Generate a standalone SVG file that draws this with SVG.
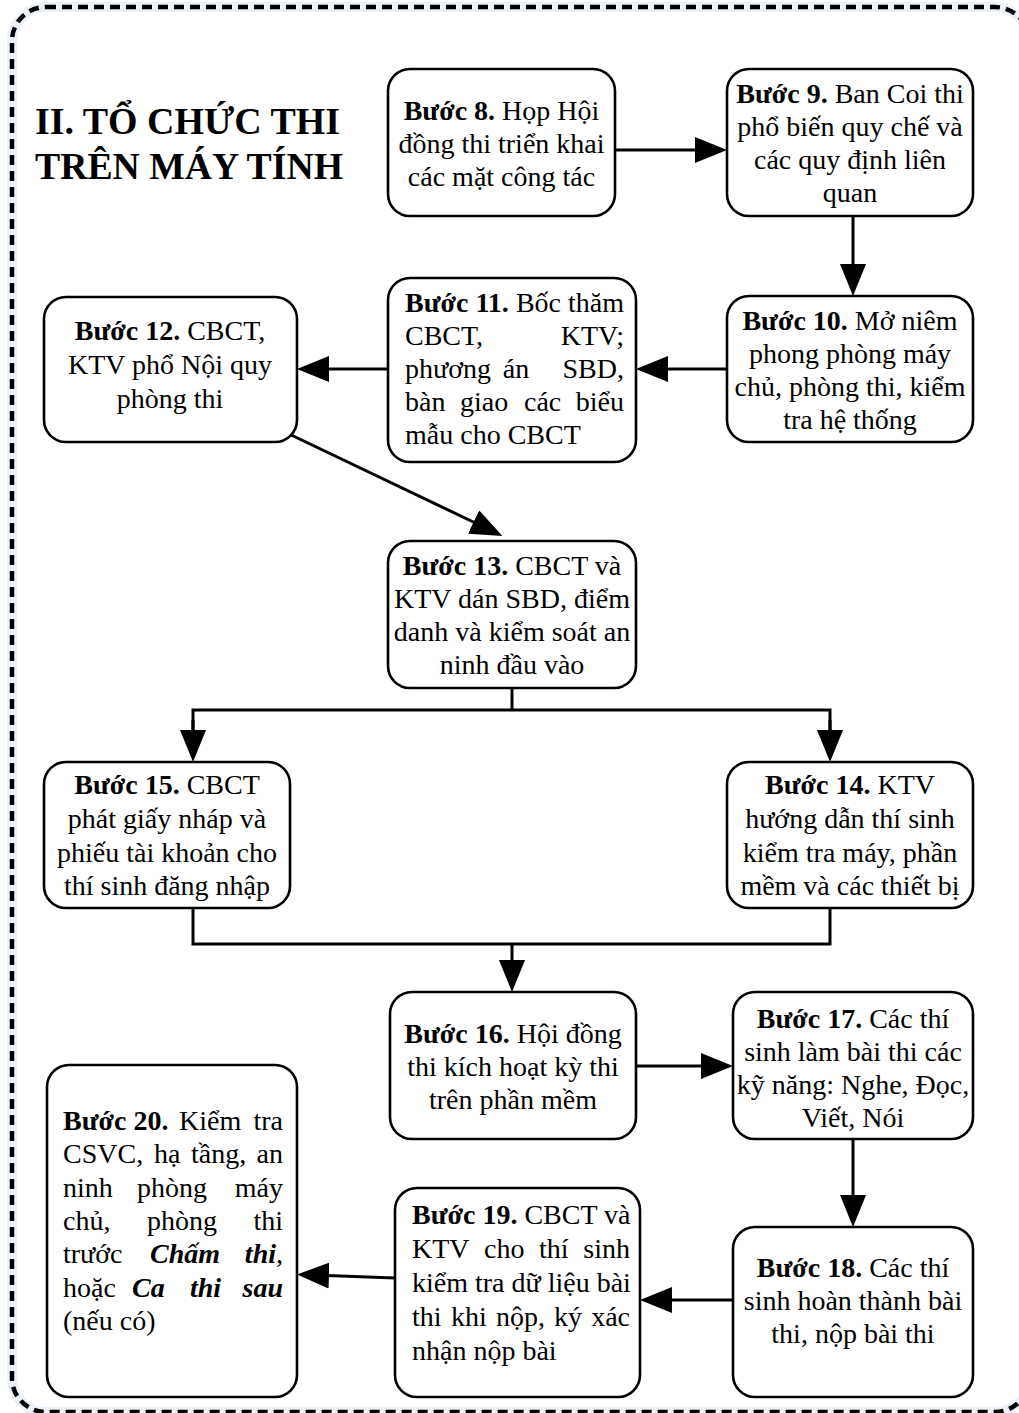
<svg xmlns="http://www.w3.org/2000/svg" width="1019" height="1413" viewBox="0 0 1019 1413">
<style>
.bg{fill:#ffffff}
.frame-glow{fill:none;stroke:#dde9f6;stroke-width:10;opacity:0.6}
.frame{fill:none;stroke:#000;stroke-width:4.5;stroke-dasharray:10 6}
.box{fill:#ffffff;stroke:#000;stroke-width:2.6}
.t{font-family:"Liberation Serif","Times New Roman",serif;font-size:28px;fill:#000}
.c{text-anchor:middle}
.e{text-anchor:end}
.b{font-weight:bold}
.bi{font-weight:bold;font-style:italic}
.title{font-family:"Liberation Serif","Times New Roman",serif;font-size:38px;font-weight:bold;fill:#000}
.edge{fill:none;stroke:#000;stroke-width:3}
.ah{fill:#000}
</style>
<defs>
<marker id="arrow" markerUnits="userSpaceOnUse" markerWidth="32" markerHeight="26" refX="16" refY="13" orient="auto">
<path class="ah" d="M0,0 L32,13 L0,26 z"/>
</marker>
</defs>
<rect class="bg" x="0" y="0" width="1019" height="1413"/>
<rect class="frame-glow" x="12" y="7" width="1017" height="1405" rx="34"/>
<rect class="frame" x="12" y="7" width="1017" height="1405" rx="34"/>

<g id="title">
<text class="title" x="35" y="134" textLength="305" lengthAdjust="spacingAndGlyphs">II. TỔ CHỨC THI</text>
<text class="title" x="35" y="179" textLength="308" lengthAdjust="spacingAndGlyphs">TRÊN MÁY TÍNH</text>
</g>

<g id="connectors">
<line class="edge" x1="615" y1="150" x2="711" y2="150" marker-end="url(#arrow)"/>
<line class="edge" x1="853" y1="216" x2="853" y2="280" marker-end="url(#arrow)"/>
<line class="edge" x1="727" y1="369" x2="652" y2="369" marker-end="url(#arrow)"/>
<line class="edge" x1="388" y1="369" x2="313" y2="369" marker-end="url(#arrow)"/>
<line class="edge" x1="287" y1="433" x2="488" y2="529" marker-end="url(#arrow)"/>
<polyline class="edge" points="512,688 512,710"/>
<polyline class="edge" points="193,746 193,710 830,710 830,746" />
<line class="edge" x1="193" y1="720" x2="193" y2="746" marker-end="url(#arrow)"/>
<line class="edge" x1="830" y1="720" x2="830" y2="746" marker-end="url(#arrow)"/>
<polyline class="edge" points="193,908 193,944 830,944 830,908"/>
<line class="edge" x1="512" y1="944" x2="512" y2="976" marker-end="url(#arrow)"/>
<line class="edge" x1="636" y1="1066" x2="717" y2="1066" marker-end="url(#arrow)"/>
<line class="edge" x1="853" y1="1139" x2="853" y2="1211" marker-end="url(#arrow)"/>
<line class="edge" x1="733" y1="1300" x2="656" y2="1300" marker-end="url(#arrow)"/>
<line class="edge" x1="395" y1="1278" x2="313" y2="1275" marker-end="url(#arrow)"/>
</g>

<g id="n8">
<rect class="box" x="388" y="69" width="227" height="147" rx="22"/>
<text class="t c" x="501.5" y="120"><tspan class="b">Bước 8.</tspan> Họp Hội</text>
<text class="t c" x="501.5" y="153">đồng thi triển khai</text>
<text class="t c" x="501.5" y="186">các mặt công tác</text>
</g>

<g id="n9">
<rect class="box" x="727" y="69" width="246" height="147" rx="22"/>
<text class="t c" x="850" y="103"><tspan class="b">Bước 9.</tspan> Ban Coi thi</text>
<text class="t c" x="850" y="136">phổ biến quy chế và</text>
<text class="t c" x="850" y="169">các quy định liên</text>
<text class="t c" x="850" y="202">quan</text>
</g>

<g id="n10">
<rect class="box" x="727" y="296" width="246" height="146" rx="22"/>
<text class="t c" x="850" y="330"><tspan class="b">Bước 10.</tspan> Mở niêm</text>
<text class="t c" x="850" y="363">phong phòng máy</text>
<text class="t c" x="850" y="396">chủ, phòng thi, kiểm</text>
<text class="t c" x="850" y="429">tra hệ thống</text>
</g>

<g id="n11">
<rect class="box" x="388" y="278" width="248" height="184" rx="22"/>
<text class="t" x="405" y="312"><tspan class="b">Bước 11.</tspan> Bốc thăm</text>
<text class="t" x="405" y="345">CBCT,</text>
<text class="t e" x="624" y="345">KTV;</text>
<text class="t" x="405" y="378">phương</text>
<text class="t c" x="516" y="378">án</text>
<text class="t e" x="624" y="378">SBD,</text>
<text class="t" x="405" y="411">bàn</text>
<text class="t" x="460" y="411">giao</text>
<text class="t" x="524" y="411">các</text>
<text class="t e" x="624" y="411">biểu</text>
<text class="t" x="405" y="444">mẫu cho CBCT</text>
</g>

<g id="n12">
<rect class="box" x="44" y="297" width="253" height="145" rx="22"/>
<text class="t c" x="170" y="340"><tspan class="b">Bước 12.</tspan> CBCT,</text>
<text class="t c" x="170" y="374">KTV phổ Nội quy</text>
<text class="t c" x="170" y="408">phòng thi</text>
</g>

<g id="n13">
<rect class="box" x="388" y="541" width="248" height="147" rx="22"/>
<text class="t c" x="512" y="575"><tspan class="b">Bước 13.</tspan> CBCT và</text>
<text class="t c" x="512" y="608">KTV dán SBD, điểm</text>
<text class="t c" x="512" y="641">danh và kiểm soát an</text>
<text class="t c" x="512" y="674">ninh đầu vào</text>
</g>

<g id="n15">
<rect class="box" x="44" y="762" width="246" height="146" rx="22"/>
<text class="t c" x="167" y="794"><tspan class="b">Bước 15.</tspan> CBCT</text>
<text class="t c" x="167" y="828">phát giấy nháp và</text>
<text class="t c" x="167" y="862">phiếu tài khoản cho</text>
<text class="t c" x="167" y="895">thí sinh đăng nhập</text>
</g>

<g id="n14">
<rect class="box" x="727" y="762" width="246" height="146" rx="22"/>
<text class="t c" x="850" y="794"><tspan class="b">Bước 14.</tspan> KTV</text>
<text class="t c" x="850" y="828">hướng dẫn thí sinh</text>
<text class="t c" x="850" y="862">kiểm tra máy, phần</text>
<text class="t c" x="850" y="895">mềm và các thiết bị</text>
</g>

<g id="n16">
<rect class="box" x="390" y="992" width="246" height="147" rx="22"/>
<text class="t c" x="513" y="1043"><tspan class="b">Bước 16.</tspan> Hội đồng</text>
<text class="t c" x="513" y="1076">thi kích hoạt kỳ thi</text>
<text class="t c" x="513" y="1109">trên phần mềm</text>
</g>

<g id="n17">
<rect class="box" x="733" y="992" width="240" height="147" rx="22"/>
<text class="t c" x="853" y="1028"><tspan class="b">Bước 17.</tspan> Các thí</text>
<text class="t c" x="853" y="1061">sinh làm bài thi các</text>
<text class="t c" x="853" y="1094">kỹ năng: Nghe, Đọc,</text>
<text class="t c" x="853" y="1127">Viết, Nói</text>
</g>

<g id="n18">
<rect class="box" x="733" y="1227" width="240" height="170" rx="22"/>
<text class="t c" x="853" y="1277"><tspan class="b">Bước 18.</tspan> Các thí</text>
<text class="t c" x="853" y="1310">sinh hoàn thành bài</text>
<text class="t c" x="853" y="1343">thi, nộp bài thi</text>
</g>

<g id="n19">
<rect class="box" x="395" y="1188" width="245" height="209" rx="22"/>
<text class="t" x="412" y="1224"><tspan class="b">Bước 19.</tspan> CBCT và</text>
<text class="t" x="412" y="1258">KTV</text>
<text class="t" x="484" y="1258">cho</text>
<text class="t" x="539" y="1258">thí</text>
<text class="t e" x="630" y="1258">sinh</text>
<text class="t" x="412" y="1292">kiểm tra dữ liệu bài</text>
<text class="t" x="412" y="1326">thi</text>
<text class="t" x="451" y="1326">khi</text>
<text class="t" x="496" y="1326">nộp,</text>
<text class="t" x="554" y="1326">ký</text>
<text class="t e" x="630" y="1326">xác</text>
<text class="t" x="412" y="1360">nhận nộp bài</text>
</g>

<g id="n20">
<rect class="box" x="47" y="1065" width="250" height="332" rx="22"/>
<text class="t b" x="63" y="1130">Bước 20.</text>
<text class="t" x="179" y="1130">Kiểm</text>
<text class="t e" x="283" y="1130">tra</text>
<text class="t" x="63" y="1163">CSVC,</text>
<text class="t" x="154" y="1163">hạ</text>
<text class="t" x="191" y="1163">tầng,</text>
<text class="t e" x="283" y="1163">an</text>
<text class="t" x="63" y="1197">ninh</text>
<text class="t c" x="172" y="1197">phòng</text>
<text class="t e" x="283" y="1197">máy</text>
<text class="t" x="63" y="1230">chủ,</text>
<text class="t c" x="182" y="1230">phòng</text>
<text class="t e" x="283" y="1230">thi</text>
<text class="t" x="63" y="1263">trước</text>
<text class="t bi" x="150" y="1263">Chấm</text>
<text class="t e" x="283" y="1263"><tspan class="bi">thi</tspan>,</text>
<text class="t" x="63" y="1297">hoặc</text>
<text class="t bi" x="132" y="1297">Ca</text>
<text class="t bi" x="190" y="1297">thi</text>
<text class="t bi e" x="283" y="1297">sau</text>
<text class="t" x="63" y="1330">(nếu có)</text>
</g>
</svg>
